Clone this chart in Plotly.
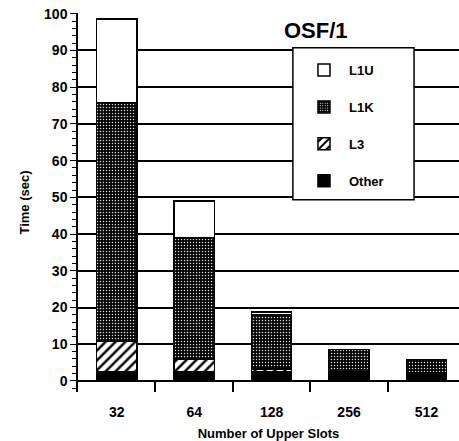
import plotly.graph_objects as go

slots = ["32", "64", "128", "256", "512"]
other = [2.4, 2.4, 2.6, 2.5, 2.2]
l3 = [8.4, 3.6, 0.6, 0, 0]
l1k = [65, 33, 14.8, 6.1, 3.7]
l1u = [22.7, 10, 0.8, 0, 0]

FONT = "Liberation Sans"
line = dict(color="black", width=1.5)

fig = go.Figure()
fig.add_trace(go.Bar(x=slots, y=other, name="Other", legendgroup="d", legendrank=4,
                     marker=dict(color="black", line=line)))
fig.add_trace(go.Bar(x=slots, y=l3, name="L3", legendgroup="c", legendrank=3,
                     marker=dict(color="black", line=line,
                                 pattern=dict(shape="/", fgcolor="black", bgcolor="white",
                                              size=7, solidity=0.35, fillmode="replace"))))
fig.add_trace(go.Bar(x=slots, y=l1k, name="L1K", legendgroup="b", legendrank=2,
                     marker=dict(color="black", line=line,
                                 pattern=dict(shape=".", fgcolor="#dddddd", bgcolor="black",
                                              size=3, solidity=0.2, fillmode="replace"))))
fig.add_trace(go.Bar(x=slots, y=l1u, name="L1U", legendgroup="a", legendrank=1,
                     marker=dict(color="white", line=line)))

fig.update_layout(
    width=459, height=441,
    margin=dict(l=78, r=0, t=13, b=49, autoexpand=False),
    barmode="stack", bargap=0.48,
    plot_bgcolor="white", paper_bgcolor="white",
    font=dict(family=FONT, size=14, color="black", weight="bold"),
    showlegend=True,
    legend=dict(x=0.58, y=0.889, xanchor="left", yanchor="top",
                traceorder="grouped", tracegroupgap=17, itemwidth=40,
                bgcolor="rgba(0,0,0,0)", borderwidth=0,
                font=dict(family=FONT, size=13, weight="bold")),
    shapes=[dict(type="rect", xref="paper", yref="paper",
                 x0=0.564, x1=0.882, y0=0.507, y1=0.908,
                 fillcolor="white", line=dict(color="black", width=1.5),
                 layer="above")],
    annotations=[dict(text="OSF/1", xref="paper", yref="paper", x=0.714, y=0.955,
                      yanchor="middle", showarrow=False,
                      font=dict(family=FONT, size=22, weight="bold"))],
)
fig.update_xaxes(range=[-0.5, 4.42], showline=False, showgrid=False, automargin=False,
                 ticks="inside", ticklen=11, tickwidth=1.5, tickcolor="black",
                 tickson="boundaries", ticklabelstandoff=10,
                 title=dict(text="Number of Upper Slots", font=dict(size=13), standoff=10))
fig.update_yaxes(range=[-3, 100.2], tick0=0, dtick=10, automargin=False,
                 ticklabeloverflow="allow",
                 showline=True, linecolor="black", linewidth=1.5,
                 showgrid=True, gridcolor="black", gridwidth=1.5,
                 zeroline=True, zerolinecolor="black", zerolinewidth=1.5,
                 ticks="outside", ticklen=6, tickwidth=1.2, tickcolor="black",
                 minor=dict(dtick=2, ticks="outside", ticklen=4, tickcolor="black", showgrid=False),
                 title=dict(text="Time (sec)", font=dict(size=13), standoff=12))

fig.write_html("out.html", config={"displayModeBar": False},
               post_script="document.body.style.margin='0';document.body.style.overflow='hidden';")
